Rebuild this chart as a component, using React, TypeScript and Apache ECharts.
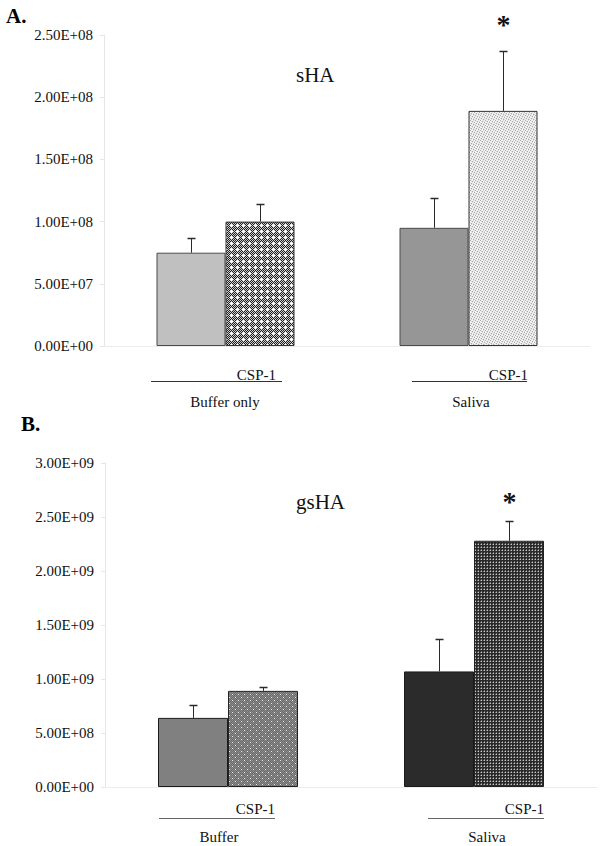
import React, { useEffect, useRef } from 'react';
import * as echarts from 'echarts';

// ---------- data ----------
const groupsA = ['Buffer only', 'Saliva'];
const controlA = [7.5e7, 9.5e7];
const cspA = [1.0e8, 1.89e8];
const controlSdA = [1.2e7, 2.4e7];
const cspSdA = [1.4e7, 4.8e7];
const sigA = [0, 1];

const groupsB = ['Buffer', 'Saliva'];
const controlB = [6.4e8, 1.07e9];
const cspB = [8.9e8, 2.28e9];
const controlSdB = [1.2e8, 3.0e8];
const cspSdB = [0.4e8, 1.8e8];
const sigB = [0, 1];

const treatmentLabel = 'CSP-1';
const titleA = 'sHA';
const titleB = 'gsHA';

const FONT = '"Liberation Serif", "DejaVu Serif", serif';

const sci = (v: number) => {
  const [m, e] = v.toExponential(2).split('e');
  const n = parseInt(e, 10);
  return `${m}E${n < 0 ? '-' : '+'}${String(Math.abs(n)).padStart(2, '0')}`;
};

function pattern(w: number, h: number, fn: (x: number, y: number) => string) {
  const c = document.createElement('canvas');
  c.width = w;
  c.height = h;
  const ctx = c.getContext('2d')!;
  for (let y = 0; y < h; y++) {
    for (let x = 0; x < w; x++) {
      ctx.fillStyle = fn(x, y);
      ctx.fillRect(x, y, 1, 1);
    }
  }
  return { image: c, repeat: 'repeat', imageWidth: w, imageHeight: h } as any;
}

export default function App() {
  const ref = useRef<HTMLDivElement>(null);
  useEffect(() => {
    if (!ref.current) return;
    const chart = echarts.init(ref.current, undefined, { renderer: 'svg' });

    const patA2 = pattern(6, 6, (x, y) => {
      const plus = (x === 3 && y >= 2 && y <= 4) || (y === 3 && x >= 2 && x <= 4);
      if (plus) return '#ffffff';
      return (x + y) % 2 ? '#1e1e1e' : '#cfcfcf';
    });
    const dotsA4 = ['0,0', '2,1', '4,2', '1,3', '3,4'];
    const patA4 = pattern(5, 5, (x, y) => (dotsA4.includes(`${x},${y}`) ? '#a9a9a9' : (x + 2 * y) % 3 === 0 ? '#dcdcdc' : '#f4f4f4'));
    const patB2 = pattern(6, 6, (x, y) => {
      if ((x === 1 && y === 1) || (x === 4 && y === 4)) return '#eeeeee';
      return (x + y) % 2 ? '#6c6c6c' : '#8a8a8a';
    });
    const patB4 = pattern(3, 3, (x, y) => {
      if (x === 1 && y === 1) return '#c8c8c8';
      if ((x === 0 && y === 1) || (x === 1 && y === 0)) return '#707070';
      return '#2a2a2a';
    });

    const bwA = 69;
    const bwB = 70;

    const makeErr = (
      gi: number,
      groups: string[],
      ctrl: number[],
      csp: number[],
      sdC: number[],
      sdT: number[],
      sig: number[],
      bw: number,
      starOff: number
    ) => {
      const data: any[] = [];
      groups.forEach((g, i) => {
        data.push([g, ctrl[i], sdC[i], 0, 0]);
        data.push([g, csp[i], sdT[i], 1, sig[i]]);
      });
      return {
        type: 'custom',
        xAxisIndex: gi,
        yAxisIndex: gi,
        clip: false,
        z: 5,
        encode: { x: 0, y: 1 },
        data,
        renderItem: (params: any, api: any) => {
          const ci = api.value(0);
          const v = api.value(1);
          const sd = api.value(2);
          const side = api.value(3);
          const s = api.value(4);
          const base = api.coord([ci, v]);
          const top = api.coord([ci, v + sd]);
          const x = Math.round(base[0] + (side === 0 ? -bw / 2 : bw / 2)) + 0.5;
          const ty = Math.round(top[1]) + 0.5;
          const children: any[] = [
            {
              type: 'line',
              shape: { x1: x, y1: base[1], x2: x, y2: ty },
              style: { stroke: '#2a2a2a', lineWidth: 1 },
            },
            {
              type: 'line',
              shape: { x1: x - 4, y1: ty, x2: x + 4, y2: ty },
              style: { stroke: '#2a2a2a', lineWidth: 1.5 },
            },
          ];
          if (s) {
            children.push({
              type: 'text',
              style: {
                text: '*',
                x: x,
                y: ty - starOff,
                font: `bold 28px ${FONT}`,
                fill: '#111',
                textAlign: 'center',
                textVerticalAlign: 'middle',
              },
            });
          }
          return { type: 'group', children };
        },
      };
    };

    const yAxisCommon = (max: number, interval: number) => ({
      type: 'value',
      min: 0,
      max,
      interval,
      axisLine: { show: true, lineStyle: { color: '#e6e6e6', width: 1 } },
      axisTick: { show: true, length: 4, lineStyle: { color: '#e6e6e6' } },
      splitLine: { show: false },
      axisLabel: {
        formatter: (v: number) => sci(v),
        fontFamily: FONT,
        fontSize: 15,
        color: '#111',
        margin: 11,
      },
    });

    const xAxisCommon = (gi: number, data: string[]) => ({
      type: 'category',
      gridIndex: gi,
      data,
      axisLine: { show: true, lineStyle: { color: '#ececec' } },
      axisTick: { show: false },
      axisLabel: { show: false },
    });

    // annotation layout (pixel positions of the group labels under the axes)
    const annA = [
      { l1: 151, l2: 282, csp: 276, name: 225 },
      { l1: 412, l2: 527, csp: 528, name: 471 },
    ];
    const annB = [
      { l1: 159, l2: 275, csp: 275, name: 219 },
      { l1: 428, l2: 544, csp: 544, name: 487 },
    ];
    const graphics: any[] = [];
    const addAnn = (ann: any[], groups: string[], yCsp: number, yLine: number, yName: number, lineColor: string) => {
      ann.forEach((a, i) => {
        graphics.push({
          type: 'text',
          style: { text: treatmentLabel, x: a.csp, y: yCsp, font: `15px ${FONT}`, fill: '#111', textAlign: 'right', textVerticalAlign: 'middle' },
        });
        graphics.push({
          type: 'line',
          shape: { x1: a.l1, y1: yLine + 0.5, x2: a.l2, y2: yLine + 0.5 },
          style: { stroke: lineColor, lineWidth: 1 },
        });
        graphics.push({
          type: 'text',
          style: { text: groups[i], x: a.name, y: yName, font: `15px ${FONT}`, fill: '#111', textAlign: 'center', textVerticalAlign: 'middle' },
        });
      });
    };
    addAnn(annA, groupsA, 375, 381, 402, '#333');
    addAnn(annB, groupsB, 809, 818, 837, '#666');

    graphics.push({ type: 'text', style: { text: 'A.', x: 6, y: 16, font: `bold 21px ${FONT}`, fill: '#000', textVerticalAlign: 'middle' } });
    graphics.push({ type: 'text', style: { text: 'B.', x: 21, y: 424, font: `bold 21px ${FONT}`, fill: '#000', textVerticalAlign: 'middle' } });
    graphics.push({ type: 'text', style: { text: titleA, x: 296, y: 75, font: `21px ${FONT}`, fill: '#111', textVerticalAlign: 'middle' } });
    graphics.push({ type: 'text', style: { text: titleB, x: 296, y: 502, font: `21px ${FONT}`, fill: '#111', textVerticalAlign: 'middle' } });

    chart.setOption({
      animation: false,
      backgroundColor: '#fff',
      grid: [
        { left: 104, top: 35, width: 486, height: 311 },
        { left: 105, top: 463, width: 492, height: 324 },
      ],
      xAxis: [xAxisCommon(0, groupsA), xAxisCommon(1, groupsB)],
      yAxis: [
        { ...yAxisCommon(2.5e8, 5e7), gridIndex: 0 },
        { ...yAxisCommon(3e9, 5e8), gridIndex: 1 },
      ],
      series: [
        {
          type: 'bar',
          xAxisIndex: 0,
          yAxisIndex: 0,
          barWidth: bwA,
          barGap: '0%',
          data: controlA.map((v, i) => ({
            value: v,
            itemStyle: { color: i === 0 ? '#c0c0c0' : '#969696', borderColor: '#4a4a4a', borderWidth: 1 },
          })),
        },
        {
          type: 'bar',
          xAxisIndex: 0,
          yAxisIndex: 0,
          barWidth: bwA,
          barGap: '0%',
          data: cspA.map((v, i) => ({
            value: v,
            itemStyle: { color: i === 0 ? patA2 : patA4, borderColor: '#333', borderWidth: 1 },
          })),
        },
        {
          type: 'bar',
          xAxisIndex: 1,
          yAxisIndex: 1,
          barWidth: bwB,
          barGap: '0%',
          data: controlB.map((v, i) => ({
            value: v,
            itemStyle: { color: i === 0 ? '#808080' : '#2b2b2b', borderColor: '#1a1a1a', borderWidth: 1 },
          })),
        },
        {
          type: 'bar',
          xAxisIndex: 1,
          yAxisIndex: 1,
          barWidth: bwB,
          barGap: '0%',
          data: cspB.map((v, i) => ({
            value: v,
            itemStyle: { color: i === 0 ? patB2 : patB4, borderColor: '#222', borderWidth: 1 },
          })),
        },
        makeErr(0, groupsA, controlA, cspA, controlSdA, cspSdA, sigA, bwA, 27),
        makeErr(1, groupsB, controlB, cspB, controlSdB, cspSdB, sigB, bwB, 20),
      ],
      graphic: graphics,
    });

    return () => chart.dispose();
  }, []);

  return (
    <div
      ref={ref}
      style={{ position: 'fixed', left: 0, top: 0, width: 603, height: 846, background: '#fff' }}
    />
  );
}
